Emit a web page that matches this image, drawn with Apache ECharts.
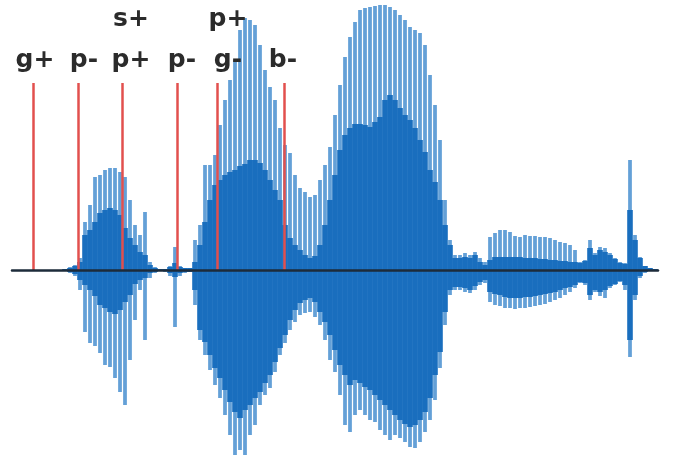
<!DOCTYPE html>
<html>
<head>
<meta charset="utf-8">
<script src="https://cdn.jsdelivr.net/npm/echarts@6/dist/echarts.min.js"></script>
<style>
  html, body { margin: 0; padding: 0; background: #fff; }
  #chart { width: 676px; height: 462px; }
</style>
</head>
<body>
<div id="chart"></div>
<script>
// waveform envelope, one sample every 5 time units starting at 65
const sampleStart = 65;
const sampleStep = 5;

// outer (light) peaks above the zero line
const lightTop = [
  1, 3, 5, 12, 48, 65, 93, 95, 100, 102,
  102, 98, 93, 70, 45, 35, 58, 8, 3, 1,
  1, 4, 23, 4, 2, 2, 30, 45, 105, 105,
  115, 145, 170, 190, 210, 240, 252, 250, 245, 225,
  200, 183, 170, 142, 125, 117, 95, 82, 78, 73,
  75, 90, 105, 123, 155, 185, 213, 233, 248, 260,
  262, 263, 264, 265, 265, 263, 260, 255, 250, 243,
  240, 237, 225, 195, 165, 130, 70, 30, 15, 15,
  17, 15, 18, 12, 8, 33, 37, 40, 40, 38,
  34, 33, 35, 34, 34, 33, 33, 32, 30, 28,
  27, 25, 20, 8, 10, 30, 17, 23, 22, 17,
  12, 8, 7, 110, 35, 13, 4, 2, 1
];
// dense (dark) body above the zero line
const darkTop = [
  1, 2, 4, 8, 35, 40, 48, 57, 60, 62,
  60, 55, 42, 32, 25, 18, 15, 5, 2, 1,
  1, 3, 7, 3, 2, 2, 8, 25, 48, 70,
  85, 90, 95, 98, 100, 104, 106, 110, 110, 107,
  100, 90, 80, 70, 45, 32, 25, 20, 15, 12,
  14, 25, 45, 70, 95, 120, 135, 142, 146, 146,
  145, 143, 148, 153, 170, 175, 170, 162, 155, 150,
  142, 130, 118, 100, 88, 70, 45, 25, 12, 12,
  13, 12, 15, 8, 5, 10, 13, 13, 13, 13,
  13, 13, 12, 12, 12, 11, 11, 10, 10, 9,
  9, 8, 8, 7, 9, 22, 15, 20, 18, 15,
  11, 7, 6, 60, 30, 12, 4, 2, 1
];
// dense (dark) body below the zero line
const darkBottom = [
  -1, -2, -4, -10, -15, -20, -26, -35, -38, -42,
  -44, -40, -32, -25, -14, -10, -8, -3, -2, -1,
  -1, -3, -7, -3, -2, -2, -20, -60, -72, -85,
  -98, -108, -120, -132, -142, -148, -140, -135, -128, -122,
  -113, -105, -92, -78, -65, -50, -40, -33, -30, -28,
  -32, -42, -52, -65, -80, -95, -105, -115, -110, -113,
  -117, -120, -125, -130, -135, -140, -145, -150, -154, -157,
  -155, -150, -142, -128, -105, -82, -42, -20, -17, -17,
  -18, -20, -16, -12, -10, -22, -24, -25, -27, -28,
  -28, -28, -27, -27, -26, -25, -24, -23, -22, -20,
  -18, -17, -15, -12, -13, -25, -20, -22, -20, -16,
  -14, -11, -15, -70, -25, -6, -2, -1, -1
];
// outer (light) peaks below the zero line
const lightBottom = [
  -1, -3, -6, -20, -62, -73, -76, -83, -95, -97,
  -108, -122, -135, -90, -50, -20, -70, -8, -3, -1,
  -2, -6, -57, -6, -3, -2, -35, -70, -85, -100,
  -115, -128, -145, -165, -185, -180, -185, -165, -155, -135,
  -125, -118, -102, -85, -73, -60, -52, -45, -43, -42,
  -47, -55, -70, -90, -102, -125, -155, -162, -145, -140,
  -145, -150, -152, -160, -165, -170, -165, -168, -172, -177,
  -178, -172, -162, -150, -130, -98, -55, -25, -20, -20,
  -22, -23, -20, -15, -13, -32, -35, -36, -38, -38,
  -39, -38, -38, -37, -36, -35, -34, -32, -30, -28,
  -25, -22, -18, -13, -15, -30, -22, -26, -28, -18,
  -15, -12, -20, -87, -30, -8, -3, -1, -1
];

// segment boundaries (red markers) and their labels
const boundaryX = [33, 78, 122, 177, 217, 284];
const boundaryLabels = ['g+', 'p-', 's+\np+', 'p-', 'p+\ng-', 'b-'];
const boundaryHeight = 187;

const LIGHT = '#64a0d7';
const DARK = '#196ebe';
const labelNudge = [2, 6, 9, 5, 11, -1];

const waveData = lightTop.map((v, i) => [
  sampleStart + i * sampleStep, v, darkTop[i], darkBottom[i], lightBottom[i]
]);

function renderWave(params, api) {
  const x = api.value(0);
  const base = api.coord([x, 0]);
  const w = api.size([sampleStep, 0])[0];
  const bar = (v, width, color) => {
    const p = api.coord([x, v]);
    return {
      type: 'rect',
      shape: { x: base[0] - width / 2, y: Math.min(p[1], base[1]), width: width, height: Math.abs(p[1] - base[1]) },
      style: { fill: color }
    };
  };
  return {
    type: 'group',
    children: [
      bar(api.value(1), w * 0.75, LIGHT),
      bar(api.value(4), w * 0.75, LIGHT),
      bar(api.value(2), w + 0.6, DARK),
      bar(api.value(3), w + 0.6, DARK)
    ]
  };
}

const chart = echarts.init(document.getElementById('chart'));
chart.setOption({
  animation: false,
  backgroundColor: '#fff',
  grid: { left: 12, right: 18, top: 0, bottom: 0 },
  xAxis: {
    type: 'value', min: 12, max: 658, z: 5,
    axisLine: { show: true, onZero: true, lineStyle: { color: '#1d2b3a', width: 2.5 } },
    axisTick: { show: false }, axisLabel: { show: false }, splitLine: { show: false }
  },
  yAxis: {
    type: 'value', min: -192, max: 270, show: false, splitLine: { show: false }
  },
  series: [
    {
      type: 'custom',
      renderItem: renderWave,
      encode: { x: 0, y: [1, 2, 3, 4] },
      data: waveData,
      z: 2
    },
    {
      type: 'line',
      data: [],
      z: 10,
      markLine: {
        silent: true,
        symbol: ['none', 'none'],
        animation: false,
        lineStyle: { color: '#e2504e', width: 2.5, type: 'solid' },
        label: {
          show: true, position: 'end', distance: 2,
          fontFamily: 'DejaVu Sans', fontWeight: 'bold', fontSize: 25,
          lineHeight: 41, color: '#2b2b2b'
        },
        emphasis: { disabled: true },
        data: boundaryX.map((x, i) => {
          const n = labelNudge[i];
          return [
            {
              coord: [x, 0],
              label: {
                formatter: boundaryLabels[i],
                padding: n >= 0 ? [0, 0, 0, 2 * n] : [0, -2 * n, 0, 0]
              }
            },
            { coord: [x, boundaryHeight] }
          ];
        })
      }
    }
  ]
});
</script>
</body>
</html>
